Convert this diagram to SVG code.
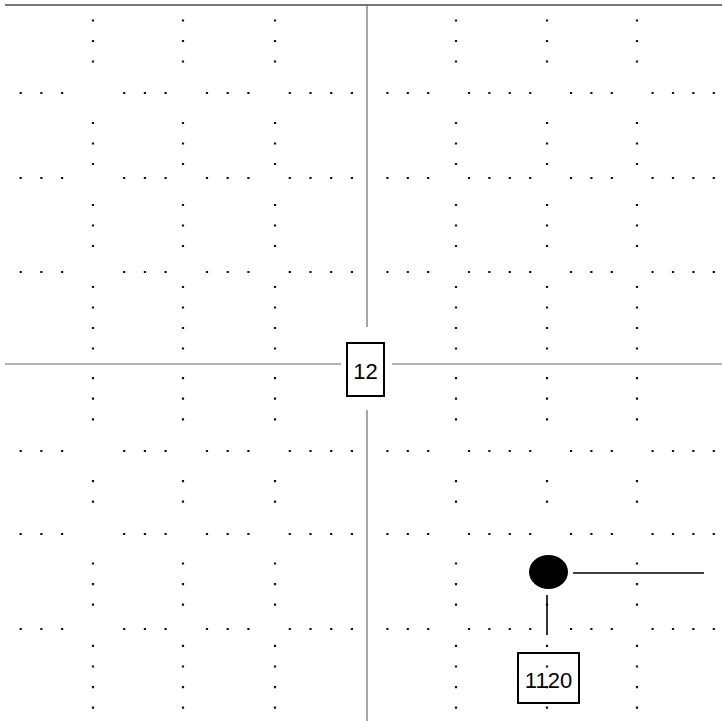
<svg xmlns="http://www.w3.org/2000/svg" width="722" height="721" viewBox="0 0 722 721">
<style>
.dh{stroke:#111;stroke-width:2.2;stroke-dasharray:2.2 18.5;}
.dhr{stroke:#111;stroke-width:2.2;stroke-dasharray:2.2 18.2;}
.dv{stroke:#111;stroke-width:2.2;stroke-dasharray:2.2 18.3;}
.dvl{stroke:#111;stroke-width:2.2;stroke-dasharray:2.2 18.4;}
.axis{stroke:#6a6a6a;stroke-width:1.2;fill:none;}
.top{stroke:#4a4a4a;stroke-width:1.4;fill:none;}
.box{fill:#fff;stroke:#000;stroke-width:2;}
.lbl{font-family:"Liberation Sans",Arial,sans-serif;font-size:22px;fill:#000;text-anchor:middle;}
.conn{stroke:#000;stroke-width:1.6;fill:none;}
</style>
<defs>
<mask id="mH" maskUnits="userSpaceOnUse" x="0" y="0" width="722" height="721">
<rect x="0" y="0" width="722" height="721" fill="#fff"/>
<rect x="80" y="0" width="26" height="721" fill="#000"/>
<rect x="170" y="0" width="26" height="721" fill="#000"/>
<rect x="262" y="0" width="26" height="721" fill="#000"/>
<rect x="355" y="0" width="24" height="721" fill="#000"/>
<rect x="443" y="0" width="25" height="721" fill="#000"/>
<rect x="534" y="0" width="26" height="721" fill="#000"/>
<rect x="624" y="0" width="26" height="721" fill="#000"/>
</mask>
<mask id="mV" maskUnits="userSpaceOnUse" x="0" y="0" width="722" height="721">
<rect x="0" y="0" width="722" height="721" fill="#fff"/>
<rect x="0" y="80" width="722" height="26" fill="#000"/>
<rect x="0" y="165" width="722" height="26" fill="#000"/>
<rect x="0" y="259" width="722" height="26" fill="#000"/>
<rect x="0" y="352" width="722" height="24" fill="#000"/>
<rect x="0" y="438" width="722" height="26" fill="#000"/>
<rect x="0" y="521" width="722" height="26" fill="#000"/>
<rect x="0" y="616" width="722" height="26" fill="#000"/>
</mask>
</defs>
<rect x="0" y="0" width="722" height="721" fill="#fff"/>
<g id="grid">
<g id="rows" mask="url(#mH)">
<line class="dh" x1="19.6" y1="93" x2="367" y2="93"/>
<line class="dh" x1="19.6" y1="178" x2="367" y2="178"/>
<line class="dh" x1="19.6" y1="272" x2="367" y2="272"/>
<line class="dh" x1="19.6" y1="451" x2="367" y2="451"/>
<line class="dh" x1="19.6" y1="534" x2="367" y2="534"/>
<line class="dh" x1="19.6" y1="629" x2="367" y2="629"/>
<line class="dhr" x1="386.3" y1="93" x2="722" y2="93"/>
<line class="dhr" x1="386.3" y1="178" x2="722" y2="178"/>
<line class="dhr" x1="386.3" y1="272" x2="722" y2="272"/>
<line class="dhr" x1="386.3" y1="451" x2="722" y2="451"/>
<line class="dhr" x1="386.3" y1="534" x2="722" y2="534"/>
<line class="dhr" x1="386.3" y1="629" x2="722" y2="629"/>
</g>
<g id="cols" mask="url(#mV)">
<line class="dv" x1="93" y1="19.4" x2="93" y2="364"/>
<line class="dv" x1="183" y1="19.4" x2="183" y2="364"/>
<line class="dv" x1="275" y1="19.4" x2="275" y2="364"/>
<line class="dv" x1="456" y1="19.4" x2="456" y2="364"/>
<line class="dv" x1="547" y1="19.4" x2="547" y2="364"/>
<line class="dv" x1="637" y1="19.4" x2="637" y2="364"/>
<line class="dvl" x1="93" y1="377" x2="93" y2="721"/>
<line class="dvl" x1="183" y1="377" x2="183" y2="721"/>
<line class="dvl" x1="275" y1="377" x2="275" y2="721"/>
<line class="dvl" x1="456" y1="377" x2="456" y2="721"/>
<line class="dvl" x1="547" y1="377" x2="547" y2="721"/>
<line class="dvl" x1="637" y1="377" x2="637" y2="721"/>
</g>
<g id="axes">
<line class="top" x1="5" y1="5" x2="722" y2="5"/>
<line class="axis" x1="367" y1="5" x2="367" y2="327"/>
<line class="axis" x1="367" y1="410" x2="367" y2="721"/>
<line class="axis" x1="5" y1="364" x2="341" y2="364"/>
<line class="axis" x1="392" y1="364" x2="722" y2="364"/>
</g>
</g>
<g id="connectors">
<line class="conn" x1="573" y1="573" x2="704" y2="573"/>
<line class="conn" x1="547" y1="595" x2="547" y2="635"/>
</g>
<g id="node-12">
<rect class="box" x="347" y="343" width="37" height="53"/>
<text class="lbl" x="365.5" y="379">12</text>
</g>
<g id="node-point">
<ellipse cx="548.5" cy="572" rx="19.5" ry="17" fill="#000"/>
</g>
<g id="node-1120">
<rect class="box" x="518" y="653" width="61" height="50" style="fill:none"/>
<text class="lbl" x="548.5" y="688">1120</text>
</g>
</svg>
